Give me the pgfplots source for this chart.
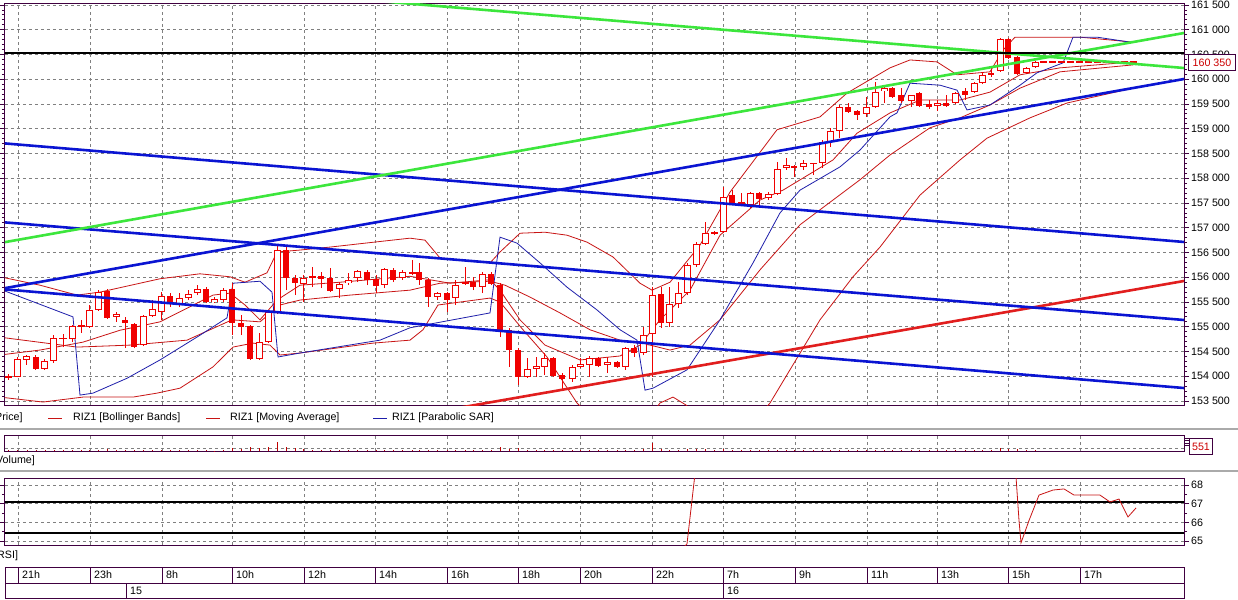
\documentclass[border=0pt]{standalone}
\usepackage{fontspec}
\setmainfont{Liberation Sans}
\usepackage{pgfplots}
\usepackage{pgfplotstable}
\pgfplotsset{compat=1.18}

\definecolor{framecol}{RGB}{64,0,64}
\definecolor{gridcol}{RGB}{128,128,128}
\definecolor{candle}{RGB}{240,0,0}
\definecolor{bandred}{RGB}{200,20,20}
\definecolor{sarblue}{RGB}{30,30,170}
\definecolor{tlblue}{RGB}{10,20,210}
\definecolor{tlgreen}{RGB}{60,230,60}
\definecolor{tlred}{RGB}{225,30,30}
\definecolor{sepgray}{RGB}{170,170,170}

% 15-minute candles, x = position on the time scale
\pgfplotstableread{
x o h l c
9 153970 154050 153930 154010
18 153990 154390 153980 154350
27 154330 154430 154230 154410
45 154150 154350 154130 154310
54 154310 154830 154270 154770
63 154760 154850 154590 154780
72 154750 155040 154690 155020
81 155010 155140 154880 155030
89 155000 155440 154980 155340
98 155340 155740 155320 155700
116 155200 155300 155100 155260
143 154630 155240 154610 155220
152 155220 155540 155200 155360
161 155300 155700 155140 155620
179 155460 155680 155400 155580
188 155580 155740 155540 155660
197 155680 155840 155640 155760
214 155500 155600 155480 155560
223 155540 155780 155500 155740
259 154350 154870 154330 154690
268 154690 155340 154670 155300
277 155280 156650 155260 156550
303 155860 156050 155500 155990
312 156000 156210 155800 156020
339 155760 155900 155580 155860
348 155880 156090 155840 155950
357 155990 156150 155900 156130
384 155840 156190 155780 156170
402 155990 156150 155950 156110
412 156080 156350 156040 156100
437 155600 155700 155540 155680
455 155580 155950 155440 155840
465 155860 156210 155840 155900
482 155800 156110 155680 156070
527 153990 154370 153970 154150
536 154150 154390 153990 154210
544 154190 154470 154030 154370
572 153950 154230 153890 154190
580 154190 154370 154170 154250
589 154230 154410 153990 154370
607 154230 154390 154070 154290
625 154190 154590 154130 154570
643 154470 155000 154430 154830
652 154850 155800 153990 155640
669 155080 155800 155000 155460
678 155460 155900 155380 155680
687 155680 156290 155640 156250
696 156250 156710 156210 156670
705 156670 157120 156650 156890
714 156890 156930 156850 156910
723 156910 157820 156890 157620
741 157500 157700 157480 157510
750 157460 157720 157400 157700
768 157600 157720 157560 157680
777 157680 158330 157660 158190
786 158210 158410 158170 158270
803 158230 158370 158170 158310
813 158300 158310 158070 158310
822 158310 158770 158210 158730
830 158730 159020 158630 158960
839 158960 159480 158810 159440
866 159300 159640 159240 159440
875 159440 159950 159420 159740
884 159760 159880 159520 159820
911 159560 159690 159440 159680
937 159460 159580 159360 159520
955 159520 159740 159500 159720
974 159740 159950 159720 159920
982 159920 160150 159900 160090
1000 160170 160830 160150 160810
1026 160130 160250 160110 160230
1035 160250 160370 160230 160350
1043 160350 160350 160350 160350
1052 160350 160350 160350 160350
1061 160350 160350 160350 160350
1070 160350 160350 160350 160350
1079 160350 160350 160350 160350
1088 160350 160350 160350 160350
1097 160350 160350 160350 160350
1106 160350 160350 160350 160350
1115 160350 160350 160350 160350
1124 160350 160350 160350 160350
1133 160350 160350 160350 160350
}\upcandles

\pgfplotstableread{
x o h l c
36 154390 154430 154130 154150
107 155720 155760 155160 155180
125 155140 155200 154570 155080
134 155060 155080 154570 154590
170 155620 155680 155400 155500
206 155760 155800 155480 155500
232 155760 155880 154830 155080
241 155080 155240 154830 155000
250 155020 155040 154330 154350
286 156550 156650 155740 155990
295 155990 156050 155640 155880
321 156030 156110 155780 155970
330 155990 156190 155700 155720
367 156110 156150 155840 155950
376 155970 156050 155680 155820
393 156150 156190 155900 155950
419 156110 156290 155840 155950
428 155950 155990 155400 155600
447 155680 155700 155300 155540
473 155900 156010 155740 155800
491 156070 156110 155840 155860
500 155840 155880 154790 154940
509 154940 154980 154190 154530
518 154530 154570 153820 153990
553 154370 154390 153990 154010
562 154030 154070 153720 153950
598 154370 154390 154190 154210
617 154290 154310 154170 154190
634 154570 154630 154390 154470
661 155660 155800 154980 155080
732 157660 157760 157480 157500
759 157700 157720 157460 157580
794 158250 158270 158030 158210
848 159440 159520 159320 159340
857 159360 159380 159180 159280
892 159820 159840 159620 159640
901 159680 159820 159520 159560
919 159720 159740 159440 159460
929 159500 159580 159400 159440
946 159520 159680 159440 159460
965 159760 159820 159580 159680
991 160130 160230 160050 160090
1008 160810 160830 160410 160430
1017 160450 160470 160090 160110
}\downcandles

\pgfplotstableread{
x v
9 40
18 80
27 50
36 60
45 40
54 90
63 50
72 70
81 40
89 80
98 90
107 100
116 40
125 60
134 80
143 90
152 50
161 70
170 50
179 40
188 40
197 60
206 60
214 30
223 60
232 200
241 120
250 250
259 180
268 220
277 560
286 250
295 180
303 130
312 80
321 70
330 90
339 60
348 50
357 60
367 60
376 70
384 80
393 60
402 50
412 50
419 60
428 90
437 40
447 70
455 80
465 60
473 50
482 70
491 60
500 250
509 150
518 180
527 80
536 60
544 60
553 70
562 80
572 70
580 40
589 60
598 50
607 40
617 40
625 90
634 60
643 150
652 500
661 120
669 90
678 80
687 110
696 100
705 120
714 60
723 140
732 80
741 50
750 60
759 60
768 40
777 90
786 60
794 50
803 50
813 40
822 80
830 70
839 90
848 60
857 50
866 60
875 80
884 50
892 60
901 50
911 40
919 60
929 40
937 40
946 40
955 60
965 50
974 60
982 70
991 60
1000 200
1008 150
1017 110
1026 70
1035 60
}\volumes

\pgfplotsset{
  panel/.style={
    scale only axis, width=1179pt, xmin=5, xmax=1184,
    anchor=north west,
    axis line style={draw=framecol, line width=1pt},
    xtick={18,90,162,232,304,375,447,518,580,652,723,795,867,937,1008,1080},
    xticklabels={}, xmajorticks=false,
    xmajorgrids,
    grid style={draw=gridcol, dash pattern=on 3pt off 3pt, line width=0.7pt},
    tick align=outside, major tick length=5pt, minor tick length=3pt,
    tick style={draw=framecol, line width=0.8pt},
    tick label style={font=\fontsize{10.7}{12}\selectfont, text=black},
    yticklabel pos=right,
    yticklabel style={anchor=west, inner sep=0pt, xshift=2pt},
    scaled y ticks=false,
  },
}

\begin{document}
\begin{tikzpicture}[x=1pt, y=1pt, font=\fontsize{10.7}{12}\selectfont]
\useasboundingbox (0,0) rectangle (1238,-599);
\clip (0,0) rectangle (1238,-599);
\fill[white] (0,0) rectangle (1238,-599);

% ---------------- price panel
\begin{axis}[panel, at={(5pt,-3.5pt)}, height=401.5pt,
  ymin=153420, ymax=161530,
  ytick={153500,154000,154500,155000,155500,156000,156500,157000,157500,158000,158500,159000,159500,160000,160500,161000,161500},
  yticklabels={153 500,154 000,154 500,155 000,155 500,156 000,156 500,157 000,157 500,158 000,158 500,159 000,159 500,160 000,160 500,161 000,161 500},
  minor y tick num=4, ytick pos=both, ymajorgrids]

% Bollinger upper
\addplot[bandred, line width=0.8pt] coordinates {
(0,156010) (40,155840) (77,155640) (100,155700) (160,155970) (200,156070)
(230,156010) (245,155900) (267,156090) (277,156510) (300,156550) (330,156610)
(410,156790) (425,156750) (440,156390) (490,156290) (500,156510) (520,156890)
(545,156910) (567,156850) (587,156710) (613,156410) (640,155880) (652,155740)
(670,155900) (700,156650) (730,157720) (777,158980) (820,159240) (847,159720)
(890,160230) (910,160390) (937,160350) (957,160090) (990,160150) (1003,160590)
(1015,160850) (1080,160850) (1133,160750)};
% Bollinger middle
\addplot[bandred, line width=0.8pt] coordinates {
(0,154790) (77,154590) (130,154630) (187,154730) (232,155140) (260,155100)
(280,155440) (300,155540) (350,155640) (410,155740) (440,155880) (490,155920)
(505,155840) (530,155600) (560,155280) (590,154940) (620,154730) (650,154630)
(670,154530) (690,154630) (720,155140) (760,156150) (800,157060) (833,157560)
(860,157970) (890,158470) (930,159020) (960,159220) (990,159480) (1020,159820)
(1060,160150) (1133,160290)};
% Bollinger lower
\addplot[bandred, line width=0.8pt] coordinates {
(0,153580) (43,153480) (83,153580) (133,153580) (157,153660) (180,153760)
(213,154190) (233,154590) (253,154670) (270,154630) (280,154430) (300,154470)
(373,154670) (410,154730) (423,154940) (438,155440) (490,155580) (500,155500)
(523,154940) (547,154390) (577,153460) (600,153020) (640,152910) (660,153460)
(673,153580) (686,153420) (720,152710) (760,153220) (770,153460) (820,155140)
(853,156010) (880,156610) (920,157660) (960,158370) (987,158810) (1030,159220)
(1067,159520) (1133,159820)};
% moving average
\addplot[bandred, line width=0.8pt] coordinates {
(0,154430) (40,154530) (83,154690) (120,154930) (160,155100) (213,155640)
(230,155680) (245,155440) (260,155140) (277,155540) (300,155840) (340,155900)
(410,156020) (450,155880) (490,155950) (500,155740) (520,155140) (545,154630)
(580,154330) (620,154410) (640,154630) (660,155140) (690,155740) (720,156850)
(760,157560) (783,157760) (833,158370) (857,158910) (890,159320) (920,159580)
(960,159580) (990,159740) (1020,160090) (1060,160230) (1133,160350)};
% parabolic SAR
\addplot[sarblue, line width=0.8pt] coordinates {
(0,155760) (73,155200) (80,153620) (93,153660) (127,153960) (160,154330)
(200,154830) (227,155180) (233,155880) (260,155920) (272,155700) (278,154390)
(300,154470) (380,154730) (410,154980) (490,155280) (500,156810) (517,156690)
(540,156290) (567,155800) (597,155340) (620,154940) (637,154730) (645,153720)
(653,153760) (687,154130) (720,155140) (753,156290) (780,157300) (800,157760)
(840,158230) (860,158570) (890,159240) (897,159320) (910,159920) (940,159880)
(957,159780) (967,159380) (990,159480) (1020,159880) (1037,160130) (1063,160330)
(1073,160850) (1097,160850) (1130,160750)};

% wicks
\addplot[draw=none, error bars/.cd, y dir=plus, y explicit, error mark=none,
  error bar style={draw=candle, line width=1pt}]
  table[x=x, y=l, y error plus expr={\thisrow{h}-\thisrow{l}}] {\upcandles};
\addplot[draw=none, error bars/.cd, y dir=plus, y explicit, error mark=none,
  error bar style={draw=candle, line width=1pt}]
  table[x=x, y=l, y error plus expr={\thisrow{h}-\thisrow{l}}] {\downcandles};
% falling bodies
\addplot[draw=none, error bars/.cd, y dir=both, y explicit, error mark=none,
  error bar style={draw=candle, line width=6.6pt, line cap=butt}]
  table[x=x, y expr={(\thisrow{o}+\thisrow{c})/2},
        y error expr={max(abs(\thisrow{o}-\thisrow{c})/2,12)}] {\downcandles};
% rising bodies: red outline then white inside
\addplot[draw=none, error bars/.cd, y dir=both, y explicit, error mark=none,
  error bar style={draw=candle, line width=7pt, line cap=butt}]
  table[x=x, y expr={(\thisrow{o}+\thisrow{c})/2},
        y error expr={max(abs(\thisrow{o}-\thisrow{c})/2,12)}] {\upcandles};
\addplot[draw=none, error bars/.cd, y dir=both, y explicit, error mark=none,
  error bar style={draw=white, line width=5pt, line cap=butt}]
  table[x=x, y expr={(\thisrow{o}+\thisrow{c})/2},
        y error expr={max(abs(\thisrow{o}-\thisrow{c})/2-22,0)}] {\upcandles};

% trend lines
\addplot[tlred, line width=2.6pt] coordinates {(460,153367) (1184,155925)};
\addplot[tlblue, line width=2.6pt] coordinates {(0,155763) (1184,160005)};
\addplot[tlblue, line width=2.6pt] coordinates {(0,158712) (1184,156713)};
\addplot[tlblue, line width=2.6pt] coordinates {(0,157117) (1184,155137)};
\addplot[tlblue, line width=2.6pt] coordinates {(0,155763) (1184,153763)};
\addplot[tlgreen, line width=2.6pt] coordinates {(0,162213) (1184,160227)};
\addplot[tlgreen, line width=2.6pt] coordinates {(0,156692) (1184,160934)};
\addplot[black, line width=2pt] coordinates {(0,160530) (1184,160530)};
\end{axis}

% last price box
\node[draw=framecol, fill=white, text=candle!85!black, line width=1pt,
  minimum width=47pt, minimum height=16pt, inner sep=0pt, anchor=west]
  at (1188,-62.5) {160 350};

% ---------------- legend row
\node[anchor=west, inner sep=0pt] at (-5,-418) {Price]};
\draw[bandred, line width=1pt] (48,-418) -- (62,-418);
\node[anchor=west, inner sep=0pt] at (73,-418) {RIZ1 [Bollinger Bands]};
\draw[bandred, line width=1pt] (206,-418) -- (220,-418);
\node[anchor=west, inner sep=0pt] at (230,-418) {RIZ1 [Moving Average]};
\draw[sarblue, line width=1pt] (373,-418) -- (387,-418);
\node[anchor=west, inner sep=0pt] at (392,-418) {RIZ1 [Parabolic SAR]};
\draw[sepgray, line width=1.5pt] (0,-429) -- (1238,-429);

% ---------------- volume panel
\begin{axis}[panel, at={(5pt,-435pt)}, height=16pt,
  ymin=0, ymax=1000, ytick={350,500,650,800}, yticklabels={}, ytick pos=right]
\addplot[draw=gridcol, dash pattern=on 3pt off 3pt, line width=0.7pt]
  coordinates {(5,150) (1184,150)};
\addplot[ycomb, candle!80!black, line width=1pt] table[x=x, y=v] {\volumes};
\end{axis}
\node[draw=framecol, fill=white, text=candle!85!black, line width=1pt,
  minimum width=23pt, minimum height=16pt, inner sep=0pt, anchor=north west]
  at (1189,-438) {551};
\node[anchor=west, inner sep=0pt] at (-4,-461) {Volume]};
\draw[sepgray, line width=1.5pt] (0,-471) -- (1238,-471);

% ---------------- RSI panel
\begin{axis}[panel, at={(5pt,-478pt)}, height=67pt,
  ymin=64.786, ymax=68.375, ytick={65,66,67,68}, yticklabels={65,66,67,68},
  minor y tick num=1, ytick pos=both, ymajorgrids]
\addplot[black, line width=2pt] coordinates {(5,67.09) (1184,67.09)};
\addplot[black, line width=2pt] coordinates {(5,65.43) (1184,65.43)};
\addplot[bandred, line width=0.8pt] coordinates {
(600,60) (687,64.85) (695,68.6) (705,72) (1000,74) (1014,70) (1019,66.1)
(1021,64.9) (1029,66.1) (1039,67.46) (1053,67.73) (1064,67.79) (1074,67.46)
(1100,67.46) (1110,67.09) (1119,67.25) (1128,66.29) (1136,66.77)};
\end{axis}
\node[anchor=west, inner sep=0pt] at (-3,-556) {RSI]};

% ---------------- time scale
\draw[framecol, line width=1pt] (5,-567) rectangle (1184,-598);
\draw[framecol, line width=1pt] (5,-583) -- (1184,-583);
\foreach \xx/\lab in {18/21h, 90/23h, 162/8h, 232/10h, 304/12h, 375/14h,
    447/16h, 518/18h, 580/20h, 652/22h, 723/7h, 795/9h, 867/11h, 937/13h,
    1008/15h, 1080/17h} {
  \draw[framecol, line width=1pt] (\xx,-567) -- (\xx,-583);
  \node[anchor=west, inner sep=0pt] at (\xx+4,-575) {\lab};
}
\draw[framecol, line width=1pt] (126,-583) -- (126,-598);
\draw[framecol, line width=1pt] (723,-583) -- (723,-598);
\node[anchor=west, inner sep=0pt] at (130,-591) {15};
\node[anchor=west, inner sep=0pt] at (727,-591) {16};
\end{tikzpicture}
\end{document}
